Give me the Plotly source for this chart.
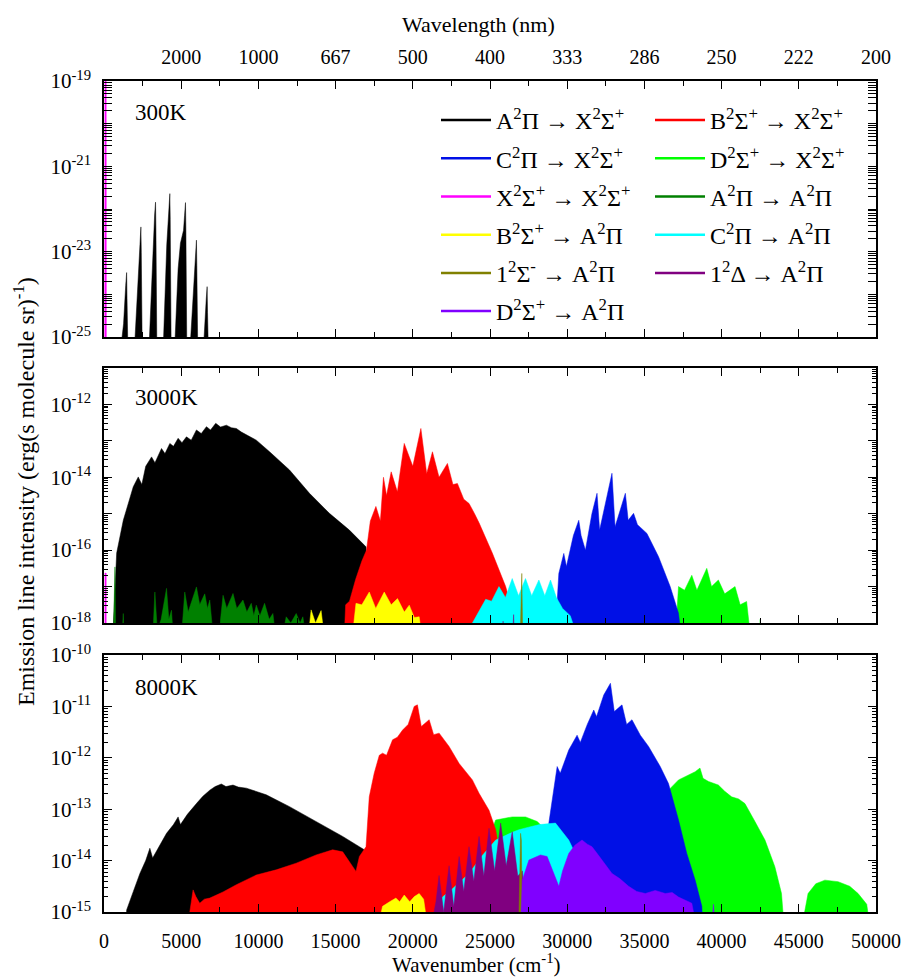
import plotly.graph_objects as go

# ---------------- data (wavenumber cm^-1, log10 intensity) ----------------
LABELS = ["A<sup>2</sup>Π → X<sup>2</sup>Σ<sup>+</sup>", "B<sup>2</sup>Σ<sup>+</sup> → X<sup>2</sup>Σ<sup>+</sup>",
          "C<sup>2</sup>Π → X<sup>2</sup>Σ<sup>+</sup>", "D<sup>2</sup>Σ<sup>+</sup> → X<sup>2</sup>Σ<sup>+</sup>",
          "X<sup>2</sup>Σ<sup>+</sup> → X<sup>2</sup>Σ<sup>+</sup>", "A<sup>2</sup>Π → A<sup>2</sup>Π",
          "B<sup>2</sup>Σ<sup>+</sup> → A<sup>2</sup>Π", "C<sup>2</sup>Π → A<sup>2</sup>Π",
          "1<sup>2</sup>Σ<sup>-</sup> → A<sup>2</sup>Π", "1<sup>2</sup>Δ → A<sup>2</sup>Π",
          "D<sup>2</sup>Σ<sup>+</sup> → A<sup>2</sup>Π"]
KEYS = ["AX", "BX", "CX", "DX", "XX", "AA", "BA", "CA", "S1A", "D1A", "DA"]
COLORS = {"AX": "#000000", "BX": "#FF0000", "CX": "#0010E6", "DX": "#00FF00", "XX": "#FF00FF",
          "AA": "#008000", "BA": "#FFFF00", "CA": "#00FFFF", "S1A": "#808000", "D1A": "#800080",
          "DA": "#8000FF"}
DRAW_ORDER = ["AX", "DX", "BX", "CX", "XX", "AA", "BA", "CA", "D1A", "S1A", "DA"]

# 300 K
AX_300 = [(1016, -25.5), (1266, -24.69), (1406, -23.79), (1466, -23.49), (1491, -24.09), (1556, -25.5),
          (1940, -25.5), (2190, -23.62), (2330, -22.72), (2390, -22.42), (2415, -23.02), (2480, -25.5),
          (2888, -25.5), (3138, -23.04), (3278, -22.14), (3338, -21.84), (3363, -22.44), (3428, -25.5),
          (3814, -25.5), (4064, -22.84), (4204, -21.94), (4264, -21.64), (4289, -22.24), (4354, -25.5),
          (4550, -25.5), (4800, -23.4), (4950, -22.8), (5150, -22.5), (5218, -22.15), (5278, -21.85),
          (5303, -22.45), (5368, -25.5),
          (5537, -25.5), (5787, -23.93), (5927, -23.03), (5987, -22.73), (6012, -23.33), (6077, -25.5),
          (6230, -25.5), (6480, -25.02), (6620, -24.12), (6680, -23.82), (6705, -24.42), (6770, -25.5)]
XX_300 = [(40, -30), (60, -18.5), (140, -18.5), (160, -30)]

# 3000 K
AX_3000 = [(560, -18.5), (820, -16.08), (1250, -15.18), (1895, -14.26), (2218, -13.99), (2450, -14.2),
           (2700, -13.7), (3080, -13.44), (3300, -13.6), (3725, -13.21), (3950, -13.35), (4264, -13.07),
           (4500, -13.15), (4800, -12.93), (5050, -13.05), (5340, -12.89), (5650, -12.98), (5987, -12.70),
           (6300, -12.8), (6634, -12.61), (6900, -12.7), (7235, -12.52), (7550, -12.62), (7926, -12.57),
           (8250, -12.64), (8572, -12.66), (8900, -12.76), (9218, -12.84), (9864, -12.98), (10724, -13.30),
           (12016, -13.80), (13307, -14.44), (14599, -14.99), (15891, -15.45), (16968, -15.91),
           (17075, -16.55), (17100, -18.5)]
BX_3000 = [(15550, -18.5), (15650, -17.5), (15900, -17.4), (16300, -16.8), (16700, -16.3), (17000, -16.0),
           (17250, -15.2), (17610, -14.8), (17900, -15.2), (18100, -14.0), (18300, -14.5), (18600, -13.85),
           (19000, -14.4), (19444, -13.07), (20000, -13.7), (20523, -12.66), (20900, -13.9), (21273, -13.30),
           (21700, -14.0), (22243, -13.62), (22600, -14.2), (22889, -14.17), (23300, -14.6), (23643, -14.72),
           (24000, -15.0), (24290, -15.25), (25150, -16.08), (26015, -17.0), (26400, -17.6), (26600, -18.5)]
CX_3000 = [(29200, -18.5), (29350, -17.2), (29457, -16.64), (29780, -16.09), (29950, -16.45), (30400, -15.6),
           (30750, -15.18), (30900, -15.6), (31180, -16.0), (31600, -15.0), (31932, -14.44), (32100, -15.45),
           (32600, -14.5), (32900, -13.89), (33100, -15.36), (33500, -14.8), (33766, -14.44), (33950, -15.18),
           (34300, -14.99), (34550, -15.3), (35163, -15.54), (35917, -16.18), (36670, -17.0), (37209, -17.73),
           (37420, -18.5)]
DX_3000 = [(36990, -18.5), (37209, -17.0), (37600, -17.1), (38070, -16.69), (38400, -17.1), (39040, -16.50),
           (39350, -17.0), (39790, -16.82), (40200, -17.2), (40870, -17.0), (41200, -17.5), (41620, -17.41),
           (41900, -18.5), (42450, -18.5), (42500, -17.9), (42560, -18.5)]
XX_3000 = [(40, -30), (60, -16.63), (140, -16.63), (160, -30)]
AA_3000 = [(600, -18.5), (710, -16.46), (760, -18.5),
           (1150, -18.5), (1250, -17.74), (1300, -18.5),
           (3150, -18.5), (3295, -17.15), (3450, -18.2), (3700, -17.9), (4050, -17.05), (4200, -17.9),
           (4370, -17.65), (4500, -18.5),
           (5000, -18.5), (5230, -17.15), (5450, -17.7), (5700, -17.4), (5987, -17.01), (6200, -17.5),
           (6525, -17.2), (6700, -17.6), (6850, -17.37), (7100, -18.5),
           (7400, -18.5), (7710, -17.24), (7950, -17.6), (8355, -17.19), (8600, -17.6), (9000, -17.37),
           (9250, -17.7), (9540, -17.46), (9700, -17.8), (9864, -17.51), (10100, -17.8), (10400, -17.46),
           (10700, -17.9), (10940, -17.74), (11150, -18.5),
           (11500, -18.5), (11800, -17.83), (12100, -18.0), (12450, -17.74), (12700, -18.0), (12880, -17.83),
           (13100, -18.5)]
BA_3000 = [(13200, -18.5), (13415, -17.64), (13700, -18.0), (14060, -17.66), (14300, -18.5),
           (16050, -18.5), (16320, -17.46), (16700, -17.5), (17180, -17.15), (17600, -17.6), (18150, -17.15),
           (18600, -17.5), (19010, -17.33), (19450, -17.7), (19770, -17.51), (20100, -17.85), (20413, -17.83),
           (20630, -18.5)]
CA_3000 = [(23200, -18.5), (24000, -17.9), (24720, -17.35), (25100, -17.4), (25580, -17.0), (26000, -17.3),
           (26440, -16.78), (26850, -17.25), (27300, -16.78), (27700, -17.25), (28165, -16.82), (28550, -17.25),
           (28920, -16.82), (29300, -17.3), (29700, -17.6), (30200, -17.8), (30750, -18.5)]
S1A_3000 = [(26950, -18.5), (27020, -16.64), (27060, -16.64), (27120, -18.5)]
D1A_3000 = [(25800, -18.5), (25850, -17.95), (25900, -18.5), (26450, -18.5), (26530, -17.77), (26580, -18.5)]

# 8000 K
AX_8000 = [(1400, -15.5), (1466, -14.96), (1900, -14.6), (2326, -14.25), (2700, -14.0), (2970, -13.76),
           (3150, -13.95), (3600, -13.7), (4050, -13.47), (4500, -13.3), (4800, -13.15), (4950, -13.3),
           (5400, -13.1), (5987, -12.89), (6400, -12.75), (6850, -12.63), (7200, -12.56), (7600, -12.51),
           (7900, -12.56), (8355, -12.53), (8700, -12.57), (9218, -12.59), (10510, -12.72), (12016, -12.95),
           (13740, -13.24), (15460, -13.53), (16540, -13.73), (16860, -13.79), (16900, -15.5)]
BX_8000 = [(5500, -15.5), (5556, -15.0), (5770, -14.57), (5950, -14.7), (6200, -14.83), (6500, -14.75),
           (6850, -14.73), (7200, -14.68), (7710, -14.61), (8570, -14.47), (9864, -14.28), (11155, -14.18),
           (12450, -14.05), (13740, -13.89), (14810, -13.79), (15460, -13.83), (16105, -14.12),
           (16320, -14.21), (16540, -13.92), (16970, -13.73), (17180, -12.76), (17500, -12.3),
           (17830, -11.95), (18040, -11.91), (18300, -11.95), (18690, -11.65), (19000, -11.6),
           (19340, -11.46), (19700, -11.35), (20090, -11.0), (20300, -10.97), (20550, -11.39),
           (21060, -11.26), (21350, -11.55), (21705, -11.52), (22350, -11.78), (23000, -12.11),
           (23860, -12.43), (24290, -12.69), (24610, -12.85), (24935, -13.02), (25370, -13.40),
           (25700, -14.0), (26000, -15.5)]
CX_8000 = [(28700, -15.5), (28810, -13.27), (29030, -12.82), (29350, -12.17), (29550, -12.3), (30100, -11.85),
           (30640, -11.56), (30850, -11.7), (31300, -11.35), (31720, -11.07), (31900, -11.2), (32365, -10.78),
           (32800, -10.55), (33050, -11.1), (33550, -10.97), (33850, -11.35), (34195, -11.26), (34735, -11.56),
           (35270, -11.78), (36025, -12.17), (36560, -12.50), (37210, -13.21), (37745, -13.86),
           (38290, -14.38), (38720, -14.89), (38800, -15.5)]
DX_8000 = [(24500, -15.5), (25000, -13.5), (25370, -13.21), (26440, -13.15), (27300, -13.15), (28060, -13.24),
           (28490, -13.37), (29500, -13.4), (31000, -13.3), (33000, -13.1), (35000, -12.9), (36000, -12.75),
           (36560, -12.63), (37210, -12.43), (37700, -12.35), (38290, -12.27), (38600, -12.20), (38800, -12.4),
           (39150, -12.46), (39500, -12.5), (39790, -12.53), (40200, -12.65), (40650, -12.76), (41100, -12.8),
           (41510, -12.89), (42160, -13.24), (42810, -13.60), (43450, -14.12), (43880, -14.64), (44100, -15.5),
           (45070, -15.5), (45600, -14.64), (46100, -14.45), (46690, -14.38), (47545, -14.41), (48300, -14.5),
           (48840, -14.64), (49400, -14.85), (49700, -15.5)]
BA_8000 = [(17600, -15.5), (18040, -14.89), (18500, -14.8), (18905, -14.73), (19150, -14.8), (19444, -14.67),
           (19800, -14.8), (20100, -14.7), (20413, -14.64), (20700, -14.75), (21060, -15.5)]
CA_8000 = [(21300, -15.5), (21920, -14.71), (22565, -14.55), (23640, -14.25), (24500, -13.9), (25370, -13.6),
           (26440, -13.45), (26870, -13.40), (27500, -13.35), (28200, -13.3), (29240, -13.27), (29700, -13.45),
           (30100, -13.60), (30500, -13.85), (31000, -14.5), (31500, -15.5)]
D1A_8000 = [(21060, -15.5), (21500, -14.8), (21700, -14.29), (22000, -15.0), (22350, -14.10), (22650, -14.9),
            (23000, -13.92), (23300, -14.6), (23640, -13.73), (23950, -14.4), (24290, -13.53), (24600, -14.3),
            (24935, -13.37), (25300, -14.2), (25690, -13.27), (26050, -14.1), (26440, -13.44), (26800, -14.3),
            (27100, -14.2), (27410, -15.5)]
S1A_8000 = [(26850, -15.5), (26950, -13.9), (26980, -13.47), (27030, -13.6), (27100, -15.5)]
DA_8000 = [(26950, -15.5), (27090, -14.38), (27520, -13.99), (28270, -13.89), (28700, -13.92), (29130, -14.25),
           (29460, -14.50), (29700, -14.2), (30100, -13.86), (30500, -13.7), (30960, -13.60), (31300, -13.68),
           (31610, -13.73), (32255, -13.99), (32900, -14.25), (33400, -14.35), (33980, -14.50), (34500, -14.6),
           (35060, -14.64), (35700, -14.58), (36350, -14.64), (36800, -14.62), (37210, -14.71), (38070, -14.83),
           (38500, -15.5), (39300, -15.5), (39470, -14.85), (39650, -15.5)]

PANELS = [
    ("300K", {"AX": AX_300, "XX": XX_300}),
    ("3000K", {"AX": AX_3000, "BX": BX_3000, "CX": CX_3000, "DX": DX_3000, "XX": XX_3000, "AA": AA_3000,
               "BA": BA_3000, "CA": CA_3000, "S1A": S1A_3000, "D1A": D1A_3000}),
    ("8000K", {"AX": AX_8000, "BX": BX_8000, "CX": CX_8000, "DX": DX_8000, "BA": BA_8000, "CA": CA_8000,
               "D1A": D1A_8000, "S1A": S1A_8000, "DA": DA_8000}),
]

XTICKS = [0, 5000, 10000, 15000, 20000, 25000, 30000, 35000, 40000, 45000, 50000]
WL_POS = [5000, 10000, 15000, 20000, 25000, 30000, 35000, 40000, 45000, 50000]
WL_LABELS = ["2000", "1000", "667", "500", "400", "333", "286", "250", "222", "200"]
Y_RANGES = [(-25, -19), (-18, -11), (-15, -10)]
Y_LABELLED = [[-19, -21, -23, -25], [-12, -14, -16, -18], [-10, -11, -12, -13, -14, -15]]

# ---------------- figure ----------------
W, H = 904, 977
FONT = "Liberation Serif, Times New Roman, serif"
fig = go.Figure()

for p, (tlabel, series) in enumerate(PANELS):
    xa = "x" if p == 0 else f"x{p+1}"
    ya = "y" if p == 0 else f"y{p+1}"
    for k in DRAW_ORDER:
        if k not in series:
            continue
        pts = series[k]
        fig.add_trace(go.Scatter(
            x=[a for a, b in pts], y=[10.0 ** b for a, b in pts], mode="lines",
            fill="tozeroy", fillcolor=COLORS[k], line=dict(color=COLORS[k], width=0.5),
            showlegend=False, hoverinfo="skip", xaxis=xa, yaxis=ya))

# legend entries (two columns)
for i, (k, lab) in enumerate(zip(KEYS, LABELS)):
    fig.add_trace(go.Scatter(x=[None], y=[None], mode="lines", name=lab,
                             line=dict(color=COLORS[k], width=2.5), legendgroup=k,
                             legend="legend" if i % 2 == 0 else "legend2",
                             xaxis="x", yaxis="y"))

# dummy for top wavelength axis
fig.add_trace(go.Scatter(x=[None], y=[None], xaxis="x4", yaxis="y", showlegend=False, hoverinfo="skip"))

x0, x1 = 104 / W, 876 / W
ydom = [(1 - 337 / H, 1 - 81 / H), (1 - 623 / H, 1 - 368 / H), (1 - 912 / H, 1 - 655 / H)]

layout = dict(width=W, height=H, autosize=False,
              margin=dict(l=0, r=0, t=0, b=0, pad=0, autoexpand=False), paper_bgcolor="white",
              plot_bgcolor="white", font=dict(family=FONT, color="black", size=20))

for p in range(3):
    xn = "xaxis" if p == 0 else f"xaxis{p+1}"
    yn = "yaxis" if p == 0 else f"yaxis{p+1}"
    yref = "y" if p == 0 else f"y{p+1}"
    layout[xn] = dict(domain=[x0, x1], anchor=yref, range=[0, 50000], tickmode="array", tickvals=XTICKS,
                      ticktext=[str(v) for v in XTICKS], showticklabels=(p == 2), ticks="inside", ticklen=8,
                      tickwidth=1.2, tickcolor="black", mirror="allticks", showline=True, linecolor="black",
                      linewidth=1.5, showgrid=False, zeroline=False, ticklabelstandoff=10, automargin=False,
                      tickfont=dict(size=20, family=FONT, color="black"),
                      minor=dict(ticks="inside", ticklen=5, tickwidth=1, tickcolor="black", dtick=2500,
                                 tick0=0, showgrid=False))
    lo, hi = Y_RANGES[p]
    tv = [10.0 ** e for e in range(lo, hi + 1)]
    tt = [("10<sup>%d</sup>" % e) if e in Y_LABELLED[p] else "" for e in range(lo, hi + 1)]
    layout[yn] = dict(domain=list(ydom[p]), anchor="x" if p == 0 else f"x{p+1}", type="log",
                      range=[lo, hi], tickmode="array", tickvals=tv, ticktext=tt, ticks="inside",
                      ticklen=8, tickwidth=1.2, tickcolor="black", mirror="allticks", showline=True,
                      linecolor="black", linewidth=1.5, showgrid=False, zeroline=False, automargin=False,
                      ticklabelstandoff=7, tickfont=dict(size=21, family=FONT, color="black"),
                      minor=dict(ticks="inside", ticklen=4, tickwidth=1, tickcolor="black", dtick="D1",
                                 showgrid=False))

layout["xaxis4"] = dict(overlaying="x", anchor="y", side="top", range=[0, 50000], tickmode="array",
                        tickvals=WL_POS, ticktext=WL_LABELS, ticks="", showline=False, showgrid=False,
                        zeroline=False, tickfont=dict(size=20, family=FONT, color="black"),
                        ticklabelstandoff=12, automargin=False)

leg_common = dict(xanchor="left", yanchor="top", bgcolor="rgba(0,0,0,0)",
                  font=dict(size=24, family=FONT, color="black"),
                  tracegroupgap=4, itemwidth=50, orientation="v")
layout["legend"] = dict(x=436 / W, y=1 - 98 / H, **leg_common)
layout["legend2"] = dict(x=650 / W, y=1 - 98 / H, **leg_common)

ann = []
ann.append(dict(text="Emission line intensity (erg(s molecule sr)<sup>-1</sup>)", x=24 / W, y=1 - 492 / H,
                xref="paper", yref="paper", textangle=-90, showarrow=False,
                font=dict(size=24, family=FONT, color="black"), xanchor="center", yanchor="middle"))
ann.append(dict(text="Wavelength (nm)", x=478 / W, y=1 - 25 / H, xref="paper", yref="paper",
                showarrow=False, font=dict(size=22, family=FONT, color="black"),
                xanchor="center", yanchor="middle"))
ann.append(dict(text="Wavenumber (cm<sup>-1</sup>)", x=477 / W, y=1 - 963 / H, xref="paper", yref="paper",
                showarrow=False, font=dict(size=21, family=FONT, color="black"),
                xanchor="center", yanchor="middle"))
for (tlabel, _), ypx in zip(PANELS, [113, 397, 687]):
    ann.append(dict(text=tlabel, x=133 / W, y=1 - ypx / H, xref="paper", yref="paper", showarrow=False,
                    font=dict(size=23, family=FONT, color="black"), xanchor="left", yanchor="middle"))
layout["annotations"] = ann

fig.update_layout(**layout)
fig.write_html("out.html")
